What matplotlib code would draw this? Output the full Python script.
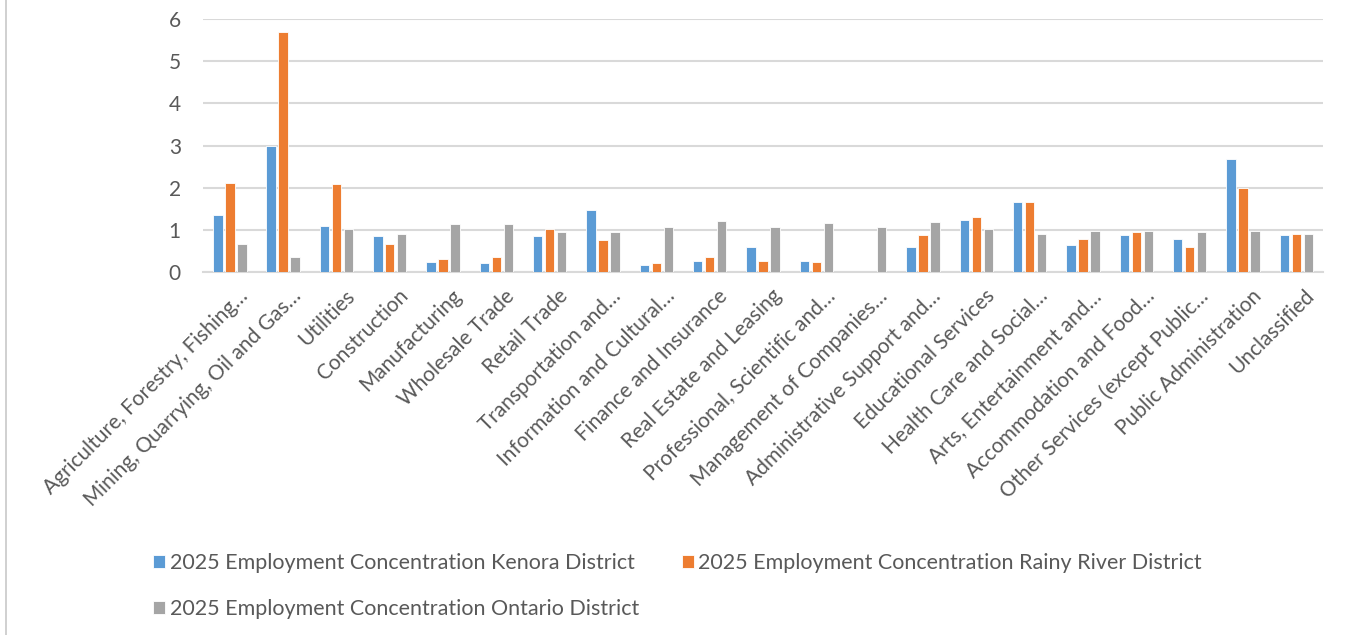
import numpy as np
import matplotlib
matplotlib.use("Agg")
from matplotlib import pyplot as plt
from matplotlib.lines import Line2D
import matplotlib.transforms as mtransforms

plt.rcParams['font.family'] = ['Lato', 'DejaVu Sans']

# industries (labels as truncated on the axis)
industries = [
    'Agriculture, Forestry, Fishing…',
    'Mining, Quarrying, Oil and Gas…',
    'Utilities',
    'Construction',
    'Manufacturing',
    'Wholesale Trade',
    'Retail Trade',
    'Transportation and…',
    'Information and Cultural…',
    'Finance and Insurance',
    'Real Estate and Leasing',
    'Professional, Scientific and…',
    'Management of Companies…',
    'Administrative Support and…',
    'Educational Services',
    'Health Care and Social…',
    'Arts, Entertainment and…',
    'Accommodation and Food…',
    'Other Services (except Public…',
    'Public Administration',
    'Unclassified',
]

kenora = [1.36, 2.99, 1.09, 0.86, 0.24, 0.21, 0.86, 1.46, 0.17, 0.27, 0.60,
          0.27, 0.00, 0.60, 1.24, 1.67, 0.63, 0.88, 0.79, 2.67, 0.88]
rainy_river = [2.10, 5.69, 2.08, 0.67, 0.30, 0.36, 1.01, 0.76, 0.21, 0.36, 0.27,
               0.24, 0.00, 0.88, 1.31, 1.67, 0.79, 0.94, 0.60, 2.00, 0.91]
ontario = [0.67, 0.36, 1.01, 0.89, 1.13, 1.13, 0.94, 0.94, 1.06, 1.22, 1.06,
           1.16, 1.06, 1.19, 1.01, 0.91, 0.98, 0.98, 0.94, 0.98, 0.91]

series_names = [
    '2025 Employment Concentration Kenora District',
    '2025 Employment Concentration Rainy River District',
    '2025 Employment Concentration Ontario District',
]
colors = ['#5B9BD5', '#ED7D31', '#A5A5A5']
text_color = '#595959'

fig = plt.figure(figsize=(13.5, 6.35), dpi=100)
ax = fig.add_axes([0.1504, 0.5717, 0.8296, 0.3983])

x = np.arange(len(industries))
bar_w = 0.18
step = 0.225
handles = []
for i, (vals, c) in enumerate(zip([kenora, rainy_river, ontario], colors)):
    b = ax.bar(x + (i - 1) * step, vals, width=bar_w, color=c,
               edgecolor='white', linewidth=0.6, zorder=3)
    handles.append(b)

ax.set_xlim(-0.5, len(industries) - 0.5)
ax.set_ylim(0, 6)
ax.set_yticks(range(0, 7))
ax.yaxis.grid(True, color='#d9d9d9', linewidth=1.5, zorder=0)
for s in ['top', 'right', 'left']:
    ax.spines[s].set_visible(False)
ax.spines['bottom'].set_color('#d9d9d9')
ax.spines['bottom'].set_linewidth(1.5)
ax.tick_params(axis='both', length=0)
ax.tick_params(axis='y', labelsize=15, labelcolor=text_color, pad=16)

ax.set_xticks(x)
ax.set_xticklabels(industries, rotation=45, ha='right', va='top',
                   rotation_mode='anchor', fontsize=15, color=text_color)
ax.tick_params(axis='x', pad=10)
shift = mtransforms.ScaledTranslation(8 / 100, 0, fig.dpi_scale_trans)
for lbl in ax.get_xticklabels():
    lbl.set_transform(lbl.get_transform() + shift)

# legend fills column by column, so order entries to read row by row
order = [0, 2, 1]
fig.legend([handles[k] for k in order], [series_names[k] for k in order],
           loc='upper left', bbox_to_anchor=(0.0993, 0.159),
           ncol=2, frameon=False, fontsize=15.5, labelcolor=text_color,
           handlelength=0.55, handleheight=0.55, handletextpad=0.2,
           columnspacing=2.0, labelspacing=1.2)

# thin frame edge on the left side
fig.add_artist(Line2D([6 / 1350, 6 / 1350], [0, 1], color='#c8c8c8', linewidth=1.2))

fig.savefig('out.png', dpi=100)
